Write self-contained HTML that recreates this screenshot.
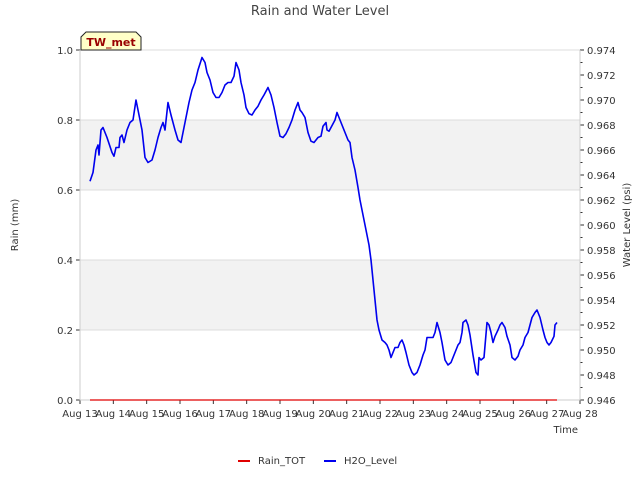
<!DOCTYPE html>
<html><head><meta charset="utf-8"><style>
body{margin:0;background:#fff;}
svg{font-family:"DejaVu Sans","Liberation Sans",sans-serif;}
</style></head><body>
<svg id="c" width="640" height="480"></svg>
<script>
const xTickLabels=["Aug 13","Aug 14","Aug 15","Aug 16","Aug 17","Aug 18","Aug 19","Aug 20","Aug 21","Aug 22","Aug 23","Aug 24","Aug 25","Aug 26","Aug 27","Aug 28"];
const leftTicks=[0.0,0.2,0.4,0.6,0.8,1.0];
const rightTicks=[0.946,0.948,0.950,0.952,0.954,0.956,0.958,0.960,0.962,0.964,0.966,0.968,0.970,0.972,0.974];
const waterDays=[0.30,0.39,0.48,0.54,0.57,0.63,0.69,0.81,0.96,1.02,1.08,1.17,1.20,1.26,1.32,1.41,1.50,1.59,1.68,1.74,1.86,1.95,2.04,2.16,2.25,2.34,2.43,2.49,2.55,2.64,2.73,2.85,2.94,3.03,3.09,3.18,3.27,3.36,3.45,3.54,3.66,3.75,3.81,3.90,3.99,4.08,4.17,4.26,4.35,4.44,4.53,4.62,4.68,4.77,4.83,4.92,4.98,5.07,5.16,5.25,5.34,5.43,5.52,5.64,5.73,5.82,5.91,6.00,6.09,6.18,6.27,6.36,6.45,6.54,6.60,6.66,6.75,6.84,6.93,7.02,7.14,7.23,7.29,7.38,7.41,7.47,7.53,7.65,7.71,7.77,7.86,7.95,8.04,8.10,8.16,8.25,8.34,8.40,8.49,8.58,8.67,8.73,8.79,8.85,8.91,8.97,9.06,9.15,9.21,9.27,9.33,9.39,9.45,9.54,9.60,9.66,9.72,9.78,9.87,9.96,10.02,10.11,10.20,10.29,10.35,10.41,10.50,10.59,10.65,10.71,10.80,10.86,10.95,11.04,11.13,11.19,11.28,11.34,11.40,11.46,11.49,11.58,11.64,11.70,11.79,11.88,11.94,11.97,12.03,12.12,12.21,12.27,12.33,12.39,12.45,12.54,12.60,12.66,12.75,12.81,12.90,12.96,13.05,13.14,13.20,13.29,13.35,13.44,13.50,13.56,13.65,13.71,13.80,13.89,13.95,14.01,14.07,14.13,14.22,14.25,14.31];
const waterLevel=[.9635,.9642,.9660,.9664,.9656,.9676,.9678,.9670,.9658,.9655,.9662,.9662,.9670,.9672,.9666,.9676,.9682,.9684,.9700,.9692,.9676,.9654,.9650,.9652,.9660,.9670,.9678,.9682,.9676,.9698,.9688,.9676,.9668,.9666,.9674,.9686,.9698,.9708,.9714,.9724,.9734,.9730,.9722,.9716,.9706,.9702,.9702,.9706,.9712,.9714,.9714,.9719,.9730,.9724,.9714,.9704,.9694,.9689,.9688,.9692,.9695,.9700,.9704,.9710,.9704,.9694,.9682,.9671,.9670,.9673,.9678,.9684,.9692,.9698,.9692,.9690,.9686,.9674,.9667,.9666,.9670,.9671,.9679,.9682,.9676,.9675,.9678,.9684,.9690,.9686,.9680,.9674,.9668,.9666,.9654,.9644,.9630,.9620,.9608,.9596,.9584,.9572,.9556,.9540,.9524,.9516,.9508,.9506,.9504,.9500,.9494,.9498,.9502,.9502,.9506,.9508,.9504,.9498,.9488,.9482,.9480,.9482,.9488,.9496,.9500,.9510,.9510,.9510,.9514,.9522,.9514,.9506,.9492,.9488,.9490,.9494,.9500,.9504,.9506,.9514,.9522,.9524,.9520,.9512,.9496,.9482,.9480,.9494,.9492,.9494,.9522,.9520,.9514,.9506,.9511,.9516,.9520,.9522,.9518,.9511,.9504,.9494,.9492,.9495,.9500,.9504,.9510,.9514,.9520,.9526,.9530,.9532,.9526,.9516,.9510,.9506,.9504,.9506,.9511,.9520,.9522];
const rainDays=[0.30,14.31];
const rainTot=[0,0];

const NS="http://www.w3.org/2000/svg";
const svg=document.getElementById('c');
const L=80,R=580,T=50,B=400;
const xs=d=>L+(R-L)*d/15;
const yL=v=>B-(B-T)*v/1.0;
const yR=v=>B-(B-T)*(v-0.946)/0.028;
function el(tag,attrs,txt){const e=document.createElementNS(NS,tag);for(const k in attrs)e.setAttribute(k,attrs[k]);if(txt!==undefined)e.textContent=txt;svg.appendChild(e);return e;}

let e;
e=el('rect',{x:L,y:T,width:R-L,height:B-T,fill:'#fff'});


[[0.2,0.4],[0.6,0.8]].forEach(b=>{
 e=el('rect',{x:L,y:yL(b[1]),width:R-L,height:yL(b[0])-yL(b[1]),fill:'#f2f2f2'});
 
 
});
leftTicks.forEach(v=>{
 e=el('line',{x1:L,x2:R,y1:yL(v),y2:yL(v),stroke:'#dcdcdc','stroke-width':1});
 
 
 e=el('line',{x1:L-4,x2:L,y1:yL(v),y2:yL(v),stroke:'#333'});
 
 
 e=el('text',{x:L-7,y:yL(v)+4,'text-anchor':'end','font-size':10,fill:'#333'},v.toFixed(1));
 
 
});
rightTicks.forEach((v,i)=>{
 e=el('line',{x1:R,x2:R+4,y1:yR(v),y2:yR(v),stroke:'#333'});
 
 
 if(i<rightTicks.length-1){
  e=el('line',{x1:R,x2:R+2.5,y1:yR(v+0.001),y2:yR(v+0.001),stroke:'#333'});
  
  
 }
 e=el('text',{x:R+7,y:yR(v)+4,'font-size':10,fill:'#333'},v.toFixed(3));
 
 
});
xTickLabels.forEach((s,i)=>{
 e=el('line',{x1:xs(i),x2:xs(i),y1:B,y2:B+4,stroke:'#333'});
 
 
 e=el('text',{x:xs(i),y:B+17,'text-anchor':'middle','font-size':10,fill:'#333'},s);
 
 
});
e=el('path',{d:`M${L},${T}V${B}H${R}V${T}`,fill:'none',stroke:'#ccc'});



e=el('polyline',{points:rainDays.map((d,i)=>xs(d)+','+yL(rainTot[i])).join(' '),fill:'none',stroke:'#e00000','stroke-width':1.2});


e=el('polyline',{points:waterDays.map((d,i)=>xs(d).toFixed(1)+','+yR(waterLevel[i]).toFixed(1)).join(' '),fill:'none',stroke:'#0000ee','stroke-width':1.6,'stroke-linejoin':'round'});



e=el('text',{x:320,y:15,'text-anchor':'middle','font-size':13,fill:'#444'},'Rain and Water Level');


e=el('text',{x:0,y:0,'text-anchor':'middle','font-size':10,fill:'#333',transform:'translate(18,225) rotate(-90)'},'Rain (mm)');


e=el('text',{x:0,y:0,'text-anchor':'middle','font-size':10,fill:'#333',transform:'translate(630,225) rotate(-90)'},'Water Level (psi)');


e=el('text',{x:578,y:433,'text-anchor':'end','font-size':10,fill:'#333'},'Time');



e=el('path',{d:'M81,50V37L86,32H136L141,37V50Z',fill:'#ffffc8',stroke:'#222','stroke-width':1});


e=el('text',{x:111,y:46,'text-anchor':'middle','font-size':11,'font-weight':'bold',fill:'#990000'},'TW_met');



e=el('line',{x1:238,x2:250,y1:461,y2:461,stroke:'#e00000','stroke-width':2});


e=el('text',{x:258,y:464,'font-size':10,fill:'#333'},'Rain_TOT');


e=el('line',{x1:324,x2:336,y1:461,y2:461,stroke:'#0000ee','stroke-width':2});


e=el('text',{x:344,y:464,'font-size':10,fill:'#333'},'H2O_Level');


</script>
</body></html>
